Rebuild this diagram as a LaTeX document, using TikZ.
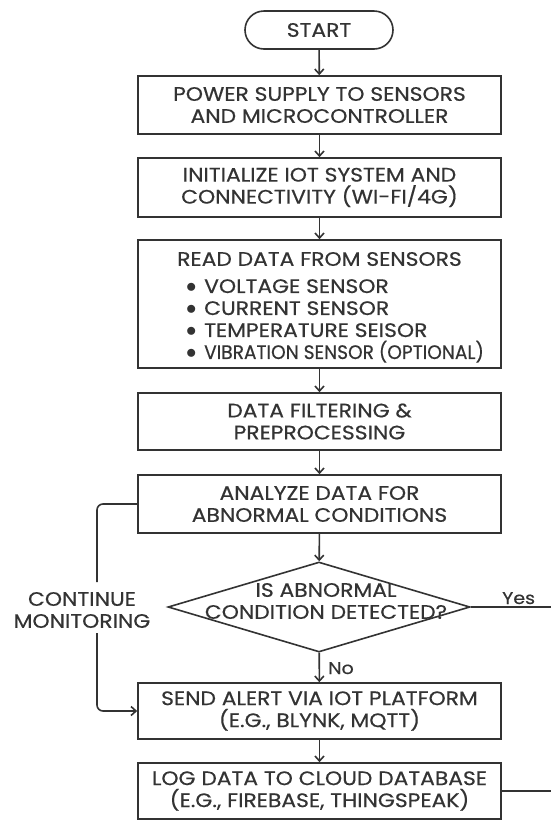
\documentclass[tikz,border=0pt]{standalone}
\usepackage{fontspec}
\usepackage{graphicx}
\setmainfont{Poppins}[FakeStretch=1.12,FakeBold=0.5]
\usetikzlibrary{arrows.meta,shapes.geometric}
\definecolor{ink}{HTML}{333333}
\newcommand{\bul}{\makebox[18pt][l]{\raisebox{0.5pt}{$\bullet$}}}
\tikzset{
  txt/.style={text=ink, font=\fontsize{19.5}{22}\selectfont},
  box/.style={txt, draw=ink, line width=1.6pt, minimum width=363pt, inner sep=0pt, align=center},
  term/.style={txt, draw=ink, line width=1.6pt, rounded corners=19pt, minimum width=148pt, minimum height=38pt, inner sep=0pt},
  dec/.style={draw=ink, line width=1.6pt, diamond, minimum width=302pt, minimum height=90pt, inner sep=0pt},
  lbl/.style={txt, align=center, inner sep=0pt},
  arr/.style={draw=ink, line width=1.6pt, -{Straight Barb[length=5pt,width=9pt,line width=1.6pt]}},
  ln/.style={draw=ink, line width=1.6pt}
}
\begin{document}
\begin{tikzpicture}[x=1pt,y=-1pt]
\useasboundingbox (0,0) rectangle (550,820);
\fill[white] (0,0) rectangle (550,820);
\node[term] (start) at (319,30) {START};
\node[box, minimum height=58pt] (b1) at (319.5,105) {POWER SUPPLY TO SENSORS\\AND MICROCONTROLLER};
\node[box, minimum height=59pt] (b2) at (319.5,187.5) {INITIALIZE IOT SYSTEM AND\\CONNECTIVITY (WI-FI/4G)};
\node[box, minimum height=128pt] (b3) at (319.5,304) {};
\node[lbl] (b3t) at (319.5,259) {READ DATA FROM SENSORS};
\node[lbl, anchor=north west, align=left] (b3l) at (186,279) {\bul VOLTAGE SENSOR\\\bul CURRENT SENSOR\\\bul TEMPERATURE SEISOR\\\bul \scalebox{0.85}[1]{VIBRATION SENSOR (OPTIONAL)}};
\node[box, minimum height=57pt] (b4) at (319.5,421.5) {DATA FILTERING \&\\PREPROCESSING};
\node[box, minimum height=58pt] (b5) at (319.5,504) {ANALYZE DATA FOR\\ABNORMAL CONDITIONS};
\node[dec] (d) at (319,607) {};
\node[lbl] (dt) at (326,601) {IS ABNORMAL\\CONDITION DETECTED?};
\node[box, minimum height=56pt] (b6) at (319.5,711) {SEND ALERT VIA IOT PLATFORM\\(E.G., BLYNK, MQTT)};
\node[box, minimum height=56pt] (b7) at (319.5,791) {LOG DATA TO CLOUD DATABASE\\(E.G., FIREBASE, THINGSPEAK)};
\node[lbl] (cm) at (82,610) {CONTINUE\\MONITORING};
\node[lbl, anchor=base west, font=\fontsize{17}{22}\selectfont] (yes) at (502,604) {Yes};
\node[lbl, anchor=base west, font=\fontsize{17}{22}\selectfont] (no) at (328,674) {No};
\coordinate (l1) at (97,582);
\coordinate (l2) at (97,633);
\coordinate (ye) at (551,607);
\coordinate (le) at (551,791);
\draw[arr] (start) -- (b1);
\draw[arr] (b1) -- (b2);
\draw[arr] (b2) -- (b3);
\draw[arr] (b3) -- (b4);
\draw[arr] (b4) -- (b5);
\draw[arr] (b5) -- (d);
\draw[arr] (d) -- (b6);
\draw[arr] (b6) -- (b7);
\draw[ln, rounded corners=6pt] (b5.west) -| (l1);
\draw[arr, rounded corners=6pt] (l2) |- (b6.west);
\draw[ln] (d.east) -- (ye);
\draw[ln] (b7.east) -- (le);
\end{tikzpicture}
\end{document}
